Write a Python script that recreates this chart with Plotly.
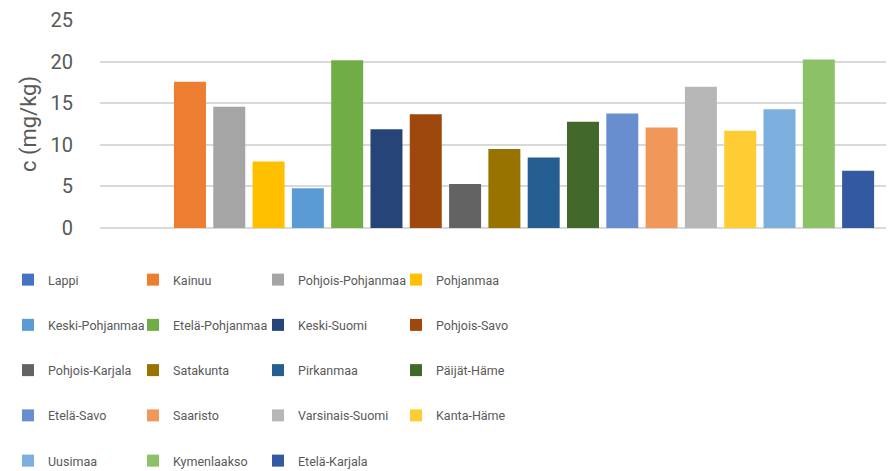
import plotly.graph_objects as go

regions = ["Lappi", "Kainuu", "Pohjois-Pohjanmaa", "Pohjanmaa",
           "Keski-Pohjanmaa", "Etelä-Pohjanmaa", "Keski-Suomi", "Pohjois-Savo",
           "Pohjois-Karjala", "Satakunta", "Pirkanmaa", "Päijät-Häme",
           "Etelä-Savo", "Saaristo", "Varsinais-Suomi", "Kanta-Häme",
           "Uusimaa", "Kymenlaakso", "Etelä-Karjala"]
values = [0, 17.6, 14.6, 8.0, 4.8, 20.2, 11.9, 13.7, 5.3, 9.5, 8.5, 12.8,
          13.8, 12.1, 17.0, 11.7, 14.3, 20.3, 6.9]
colors = ["#4472C4", "#ED7D31", "#A5A5A5", "#FFC000", "#5B9BD5", "#70AD47",
          "#264478", "#9E480E", "#636363", "#997300", "#255E91", "#43682B",
          "#698ED0", "#F1975A", "#B7B7B7", "#FFCD33", "#7CAFDD", "#8CC168",
          "#335AA1"]
category = [""]
y_ticks = [0, 5, 10, 15, 20, 25]

FONT = "Roboto, Liberation Sans, sans-serif"
W, H = 886, 463
ML = 92
PLOT_W = W - ML
col_x = [0, 125, 250, 388]      # legend box left per column (px)
legend_top = 257                 # px from top

fig = go.Figure()
for i, (name, v, c) in enumerate(zip(regions, values, colors)):
    col = i % 4
    leg = "legend" if col == 0 else f"legend{col + 1}"
    fig.add_trace(go.Bar(x=category, y=[v], name=name, marker_color=c,
                         marker_line_width=0, legend=leg, legendgroup=name))

layout_legends = {}
for col, xpx in enumerate(col_x):
    key = "legend" if col == 0 else f"legend{col + 1}"
    layout_legends[key] = dict(
        orientation="v", xref="paper", yref="container",
        x=(xpx - ML) / PLOT_W, xanchor="left",
        y=1 - legend_top / H, yanchor="top",
        tracegroupgap=26,
        font=dict(family=FONT, size=12.5, color="#595959"),
        bgcolor="rgba(0,0,0,0)", traceorder="grouped")

fig.update_layout(
    width=W, height=H,
    margin=dict(l=ML, r=0, t=8, b=243),
    plot_bgcolor="white", paper_bgcolor="white",
    barmode="group", bargap=0.0595, bargroupgap=0.186,
    showlegend=True,
    font=dict(family=FONT, color="#595959"),
    xaxis=dict(range=[-0.5093, 0.4907], showticklabels=False, showgrid=False,
               zeroline=False, showline=False, ticks=""),
    yaxis=dict(range=[0, 25.05], tickvals=y_ticks, showgrid=True,
               gridcolor="#D9D9D9", gridwidth=1.5, zeroline=True,
               zerolinecolor="#D9D9D9", zerolinewidth=1.5,
               tickfont=dict(family=FONT, size=20, color="#595959"),
               ticks="", ticklabelstandoff=26, ticklabeloverflow="allow",
               title=dict(text="c (mg/kg)", standoff=7,
                          font=dict(family=FONT, size=22, color="#595959"))),
    **layout_legends,
)
fig.write_html("out.html")
